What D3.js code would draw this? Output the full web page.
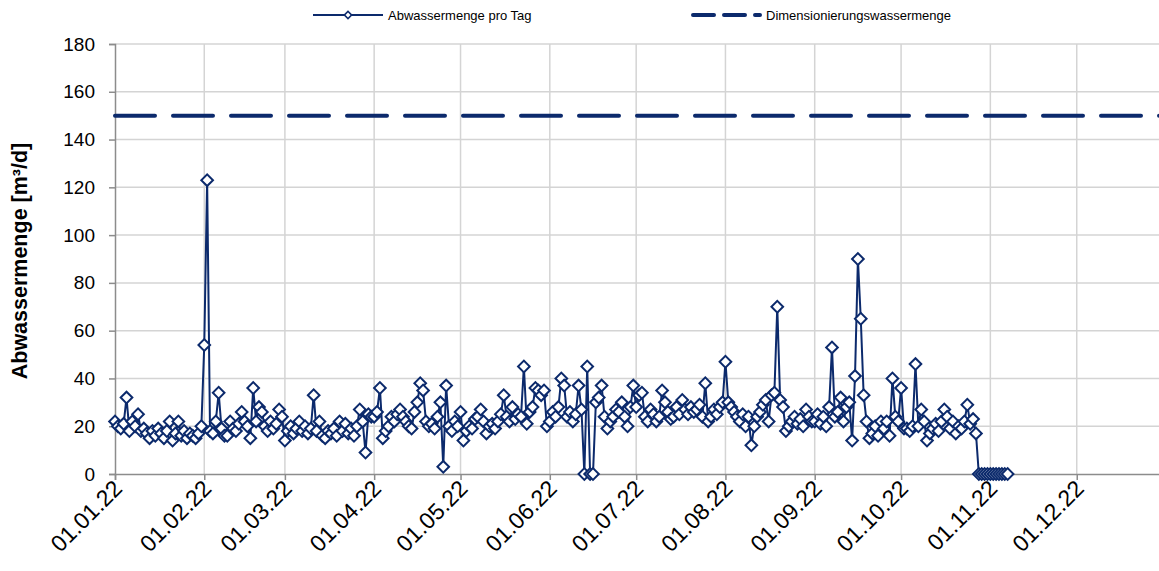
<!DOCTYPE html>
<html>
<head>
<meta charset="utf-8">
<script src="https://cdn.jsdelivr.net/npm/d3@7"></script>
<style>
  body { margin: 0; background: #fff; }
  svg { display: block; font-family: "Liberation Sans", Arial, sans-serif; }
</style>
</head>
<body>
<script>
// daily values in m3/d, one array per month
const jan = [22, 20, 19, 21, 32, 18, 22, 20, 25, 18, 19, 17, 15, 18, 16, 19, 17, 15, 18, 22, 14, 17, 22, 16, 18, 15, 17, 16, 15, 17, 20];
const feb = [54, 123, 18, 17, 22, 34, 19, 16, 16, 22, 19, 18, 21, 26, 22, 20, 15, 36, 22, 28, 26, 20, 18, 22, 19, 21, 27, 24];
const mar = [14, 18, 20, 17, 19, 22, 18, 20, 17, 19, 33, 18, 22, 16, 15, 18, 17, 19, 16, 22, 18, 21, 17, 19, 16, 20, 27, 22, 9, 25, 24];
const apr = [24, 26, 36, 15, 18, 20, 24, 22, 25, 27, 24, 22, 20, 19, 26, 30, 38, 35, 22, 20, 21, 19, 24, 30, 3, 37, 20, 18, 22, 20];
const may = [26, 14, 18, 20, 19, 23, 24, 27, 22, 17, 20, 21, 19, 22, 25, 33, 24, 22, 28, 23, 25, 24, 45, 21, 26, 28, 36, 35, 33, 35, 20];
const jun = [22, 26, 24, 28, 40, 37, 24, 26, 22, 25, 37, 27, 0, 45, 0, 0, 30, 32, 37, 24, 19, 22, 24, 27, 26, 30, 24, 20, 28, 37];
const jul = [28, 33, 34, 24, 22, 27, 25, 22, 24, 35, 30, 26, 23, 24, 28, 25, 31, 27, 25, 28, 26, 27, 29, 24, 38, 22, 24, 27, 25, 28, 30];
const aug = [47, 30, 28, 26, 24, 22, 25, 20, 24, 12, 20, 24, 26, 29, 31, 22, 33, 34, 70, 31, 28, 18, 20, 22, 24, 21, 23, 20, 27, 24, 22];
const sep = [22, 25, 21, 24, 20, 28, 53, 24, 26, 32, 22, 28, 30, 14, 41, 90, 65, 33, 22, 15, 17, 20, 16, 22, 19, 22, 16, 40, 24, 22];
const oct = [36, 19, 19, 18, 20, 46, 20, 27, 22, 14, 17, 19, 21, 18, 22, 27, 24, 19, 22, 17, 20, 19, 22, 29, 21, 23, 17, 0, 0, 0, 0];
const nov = [0, 0, 0, 0, 0, 0, 0];

const designFlow = 150;
const yTicks = [0, 20, 40, 60, 80, 100, 120, 140, 160, 180];
const monthTicks = d3.range(12).map(m => new Date(2022, m, 1));
const seriesNames = ["Abwassermenge pro Tag", "Dimensionierungswassermenge"];

const app = {

  init: () => {
    app.data = [].concat(jan, feb, mar, apr, may, jun, jul, aug, sep, oct, nov)
      .map((v, i) => ({ date: new Date(2022, 0, 1 + i), value: v }));
    app.color = "#0c2a6c";
    app.drawFrame();
    app.drawSeries();
    app.drawLegend();
  },

  drawFrame: () => {
    const svg = d3.select("body").append("svg")
      .attr("width", 1159)
      .attr("height", 571);
    app.svg = svg;

    app.x = d3.scaleTime()
      .domain([new Date(2022, 0, 1), new Date(2023, 0, 1)])
      .range([115, 1166]);
    app.y = d3.scaleLinear()
      .domain([0, 180])
      .range([474, 44]);

    // gridlines
    svg.append("g")
      .selectAll("line")
      .data(yTicks.slice(1))
      .enter()
      .append("line")
      .attr("x1", 115)
      .attr("x2", 1159)
      .attr("y1", d => app.y(d))
      .attr("y2", d => app.y(d))
      .style("stroke", "#d4d4d4")
      .style("stroke-width", 1.5);
    svg.append("g")
      .selectAll("line")
      .data(monthTicks.slice(1))
      .enter()
      .append("line")
      .attr("x1", d => app.x(d))
      .attr("x2", d => app.x(d))
      .attr("y1", 44)
      .attr("y2", 474)
      .style("stroke", "#d4d4d4")
      .style("stroke-width", 1.5);

    // y axis
    const yAxis = svg.append("g")
      .attr("transform", "translate(115,0)")
      .call(d3.axisLeft(app.y).tickValues(yTicks).tickSize(6).tickPadding(14));
    yAxis.select(".domain").style("stroke", "#8c8c8c").style("stroke-width", 1.5);
    yAxis.selectAll(".tick line").style("stroke", "#8c8c8c").style("stroke-width", 1.5);
    yAxis.selectAll("text")
      .style("font-size", "19px")
      .style("fill", "#000");

    // x axis
    const xAxis = svg.append("g")
      .attr("transform", "translate(0,474)")
      .call(d3.axisBottom(app.x).tickValues(monthTicks).tickSize(6).tickFormat(d3.timeFormat("%d.%m.%y")));
    xAxis.select(".domain").style("stroke", "#8c8c8c").style("stroke-width", 1.5);
    xAxis.selectAll(".tick line").style("stroke", "#8c8c8c").style("stroke-width", 1.5);
    xAxis.selectAll("text")
      .attr("text-anchor", "end")
      .attr("dx", 0)
      .attr("dy", 0)
      .attr("y", 0)
      .attr("transform", "translate(8,16) rotate(-45)")
      .style("font-size", "23px")
      .style("fill", "#000");

    svg.append("text")
      .attr("transform", "translate(27,261) rotate(-90)")
      .attr("text-anchor", "middle")
      .style("font-size", "21.5px")
      .style("font-weight", "bold")
      .text("Abwassermenge [m³/d]");
  },

  drawSeries: () => {
    const svg = app.svg;

    // design flow as dashed line
    svg.append("line")
      .attr("x1", app.x(new Date(2022, 0, 1)))
      .attr("x2", app.x(new Date(2023, 0, 1)))
      .attr("y1", app.y(designFlow))
      .attr("y2", app.y(designFlow))
      .style("stroke", app.color)
      .style("stroke-width", 4)
      .style("stroke-dasharray", "40 18")
      .style("stroke-linecap", "round");

    const line = d3.line()
      .x(d => app.x(d.date))
      .y(d => app.y(d.value));
    svg.append("path")
      .datum(app.data)
      .attr("d", line)
      .style("fill", "none")
      .style("stroke", app.color)
      .style("stroke-width", 2);

    const diamond = d3.symbol().type(d3.symbolSquare).size(68);
    svg.append("g")
      .selectAll("path")
      .data(app.data)
      .enter()
      .append("path")
      .attr("d", diamond)
      .attr("transform", d => "translate(" + app.x(d.date) + "," + app.y(d.value) + ") rotate(45)")
      .style("fill", "#fff")
      .style("stroke", app.color)
      .style("stroke-width", 2);
  },

  drawLegend: () => {
    const svg = app.svg;
    const lg = svg.append("g").style("font-size", "13px");

    // first entry
    lg.append("line")
      .attr("x1", 313).attr("x2", 383).attr("y1", 15).attr("y2", 15)
      .style("stroke", app.color).style("stroke-width", 2);
    lg.append("path")
      .attr("d", d3.symbol().type(d3.symbolSquare).size(26))
      .attr("transform", "translate(348,15) rotate(45)")
      .style("fill", "#fff").style("stroke", app.color).style("stroke-width", 1.6);
    lg.append("text").attr("x", 388).attr("y", 20).text(seriesNames[0]);

    // second entry
    lg.append("line")
      .attr("x1", 693).attr("x2", 760).attr("y1", 15).attr("y2", 15)
      .style("stroke", app.color).style("stroke-width", 4)
      .style("stroke-dasharray", "21 10").style("stroke-linecap", "round");
    lg.append("text").attr("x", 766).attr("y", 20).text(seriesNames[1]);
  }

}

app.init();
</script>
</body>
</html>
